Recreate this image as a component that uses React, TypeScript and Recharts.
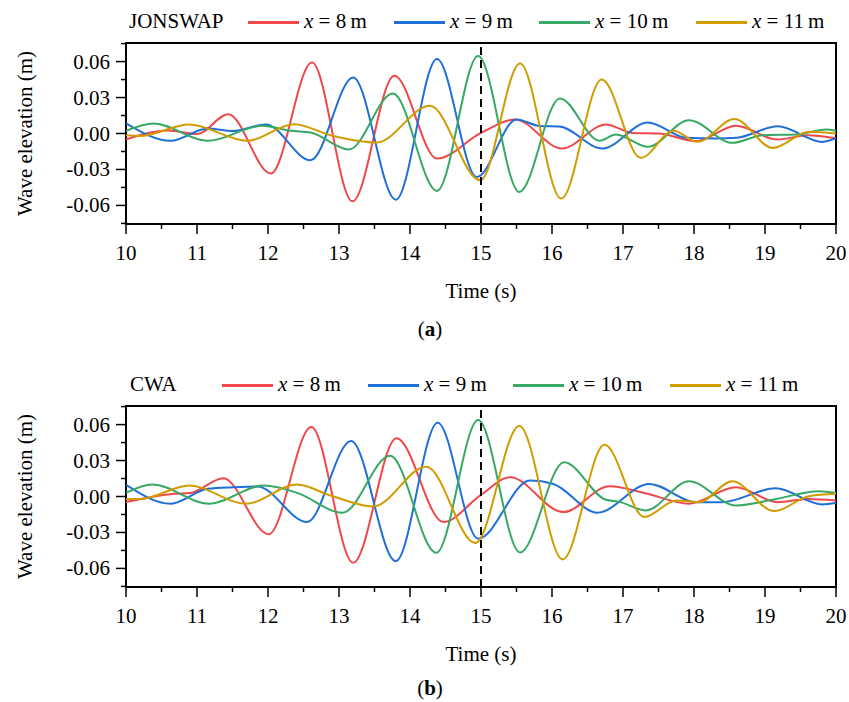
import React from 'react';
import { LineChart, Line, XAxis, YAxis, ReferenceLine, ReferenceArea } from 'recharts';

// time axis ticks (s), labels only on whole seconds
const xTicks = [10, 10.5, 11, 11.5, 12, 12.5, 13, 13.5, 14, 14.5, 15, 15.5, 16, 16.5, 17, 17.5, 18, 18.5, 19, 19.5, 20];
// elevation ticks (m), labels only on multiples of 0.03
const yTicks = [-0.075, -0.06, -0.045, -0.03, -0.015, 0, 0.015, 0.03, 0.045, 0.06, 0.075];
const yLabels: Record<string, string> = { '-0.06': '-0.06', '-0.03': '-0.03', '0': '0.00', '0.03': '0.03', '0.06': '0.06' };

const seriesNames = ['8', '9', '10', '11'];
const colors = ['#F0474A', '#1F6FD9', '#38A865', '#D09C00'];

// (a) JONSWAP — [time, elevation]
const jonswap8: [number, number][] = [
  [10, -0.005], [10.6, 0.0025], [11.0, -0.0005], [11.44, 0.016], [12.04, -0.0334], [12.62, 0.0593],
  [13.19, -0.0566], [13.78, 0.0482], [14.38, -0.0209], [15.0, 0.0005], [15.48, 0.0117], [16.14, -0.0125],
  [16.76, 0.0075], [17.13, 0.0005], [17.5, 0.0], [18.03, -0.0064], [18.59, 0.0064], [19.18, -0.005],
  [19.6, -0.0015], [20, -0.004],
];
const jonswap9: [number, number][] = [
  [10, 0.0084], [10.63, -0.0061], [11.15, 0.0042], [11.5, 0.002], [11.97, 0.0075], [12.6, -0.0223],
  [13.2, 0.0468], [13.8, -0.0552], [14.38, 0.0621], [14.94, -0.0362], [15.5, 0.0117], [15.83, 0.0062],
  [16.1, 0.0058], [16.71, -0.0125], [17.35, 0.0092], [17.89, -0.0036], [18.3, -0.0042], [18.6, -0.0036],
  [19.18, 0.0061], [19.81, -0.007], [20, -0.004],
];
const jonswap10: [number, number][] = [
  [10, 0.0022], [10.39, 0.0084], [11.15, -0.0061], [11.92, 0.0064], [12.32, 0.0022], [12.6, 0.0008],
  [13.14, -0.0134], [13.76, 0.0334], [14.38, -0.0479], [14.96, 0.0646], [15.54, -0.0488], [16.11, 0.0293],
  [16.67, -0.006], [16.9, -0.0008], [17.35, -0.0111], [17.93, 0.0111], [18.54, -0.0078], [18.97, -0.0014],
  [19.44, -0.0008], [19.86, 0.0033], [20, 0.0022],
];
const jonswap11: [number, number][] = [
  [10, -0.0014], [10.2, -0.002], [10.89, 0.0075], [11.71, -0.0061], [12.37, 0.0078], [12.88, -0.0014],
  [13.53, -0.0075], [14.28, 0.0231], [14.99, -0.039], [15.55, 0.0585], [16.13, -0.0543], [16.7, 0.0451],
  [17.25, -0.0203], [17.71, 0.0022], [18.05, -0.0069], [18.57, 0.012], [19.11, -0.012], [19.62, 0.0014],
  [20, 0.0],
];

// (b) CWA — [time, elevation]
const cwa8: [number, number][] = [
  [10, -0.0047], [10.68, 0.0022], [10.91, 0.003], [11.37, 0.0152], [12.01, -0.0315], [12.61, 0.058],
  [13.2, -0.0553], [13.81, 0.0487], [14.47, -0.0213], [15.0, 0.0014], [15.41, 0.016], [16.16, -0.013],
  [16.81, 0.0086], [17.3, 0.003], [17.93, -0.006], [18.59, 0.0077], [19.18, -0.0047], [19.6, -0.002],
  [20, -0.0033],
];
const cwa9: [number, number][] = [
  [10, 0.0097], [10.63, -0.006], [11.15, 0.0064], [11.52, 0.0077], [11.85, 0.0083], [12.55, -0.0213],
  [13.17, 0.0464], [13.8, -0.0539], [14.39, 0.0616], [14.96, -0.0351], [15.69, 0.0133], [16.02, 0.0105],
  [16.64, -0.0135], [17.37, 0.0105], [18.03, -0.0047], [18.4, -0.0047], [19.15, 0.0069], [19.81, -0.0066],
  [20, -0.0055],
];
const cwa10: [number, number][] = [
  [10, 0.003], [10.37, 0.01], [11.17, -0.006], [11.94, 0.0091], [12.41, 0.003], [13.05, -0.0135],
  [13.72, 0.034], [14.37, -0.047], [14.96, 0.0638], [15.55, -0.0467], [16.17, 0.0285], [16.75, -0.0025],
  [16.95, -0.0045], [17.32, -0.0116], [17.93, 0.0127], [18.59, -0.0075], [19.1, -0.0028], [19.76, 0.0044],
  [20, 0.003],
];
const cwa11: [number, number][] = [
  [10, -0.002], [10.2, -0.002], [10.89, 0.0091], [11.69, -0.006], [12.41, 0.01], [12.88, 0.0008],
  [13.48, -0.0083], [14.23, 0.0249], [14.92, -0.0387], [15.54, 0.0589], [16.15, -0.0525], [16.74, 0.0431],
  [17.3, -0.0171], [17.75, -0.0033], [18.07, -0.0047], [18.54, 0.0127], [19.13, -0.0122], [19.62, 0.0003],
  [20, 0.0022],
];

const FONT = '"Liberation Serif", "Times New Roman", serif';
const FS = 21;

const toPoints = (arr: [number, number][]) => arr.map(([t, v]) => ({ t, v }));

const XTick = (props: any) => {
  const { x, y, payload } = props;
  const major = Number.isInteger(payload.value);
  return (
    <g>
      <line x1={x} x2={x} y1={y} y2={y + (major ? 10 : 5)} stroke="#000" strokeWidth={1.5} />
      {major && (
        <text x={x} y={y + 36} textAnchor="middle" fontFamily={FONT} fontSize={FS} fill="#000">
          {payload.value}
        </text>
      )}
    </g>
  );
};

const YTick = (props: any) => {
  const { x, y, payload } = props;
  const label = yLabels[String(payload.value)];
  return (
    <g>
      <line x1={x} x2={x - (label ? 10 : 5)} y1={y} y2={y} stroke="#000" strokeWidth={1.5} />
      {label && (
        <text x={x - 16} y={y + 7} textAnchor="end" fontFamily={FONT} fontSize={FS} fill="#000">
          {label}
        </text>
      )}
    </g>
  );
};

const XTitle = (props: any) => {
  const { viewBox } = props;
  return (
    <text x={viewBox.x + viewBox.width / 2} y={viewBox.y + 74} textAnchor="middle" fontFamily={FONT} fontSize={FS} fill="#000">
      Time (s)
    </text>
  );
};

const YTitle = (props: any) => {
  const { viewBox } = props;
  const cy = viewBox.y + viewBox.height / 2;
  return (
    <text x={25} y={cy} transform={`rotate(-90, 25, ${cy})`} textAnchor="middle" dominantBaseline="central" fontFamily={FONT} fontSize={FS} fill="#000">
      Wave elevation (m)
    </text>
  );
};

interface PanelProps {
  top: number;
  title: string;
  tag: string;
  tagTop: number;
  series: [number, number][][];
  titleLeft: number;
  swatchLeft: number[];
}

function Panel({ top, title, tag, tagTop, series, titleLeft, swatchLeft }: PanelProps) {
  return (
    <div style={{ position: 'absolute', left: 0, top, width: 849, height: 340 }}>
      <div style={{ position: 'absolute', left: titleLeft, top: 11, fontFamily: FONT, fontSize: FS, lineHeight: `${FS}px`, whiteSpace: 'nowrap' }}>
        {title}
      </div>
      {seriesNames.map((name, i) => (
        <React.Fragment key={name}>
          <div style={{ position: 'absolute', left: swatchLeft[i], top: 21, width: 51, height: 2.5, background: colors[i] }} />
          <div style={{ position: 'absolute', left: swatchLeft[i] + 56, top: 11, fontFamily: FONT, fontSize: FS, lineHeight: `${FS}px`, whiteSpace: 'nowrap' }}>
            <i>x</i> = {name}&thinsp;m
          </div>
        </React.Fragment>
      ))}
      <LineChart width={849} height={320} margin={{ top: 43, right: 13, left: 66, bottom: 66 }}>
        <XAxis
          dataKey="t"
          type="number"
          domain={[10, 20]}
          ticks={xTicks}
          interval={0}
          allowDataOverflow
          axisLine={false}
          tickLine={false}
          tickSize={0}
          tickMargin={0}
          tick={<XTick />}
          height={30}
          label={<XTitle />}
        />
        <YAxis
          type="number"
          domain={[-0.0755, 0.0755]}
          ticks={yTicks}
          interval={0}
          allowDataOverflow
          axisLine={false}
          tickLine={false}
          tickSize={0}
          tickMargin={0}
          tick={<YTick />}
          width={60}
          label={<YTitle />}
        />
        {series.map((s, i) => (
          <Line
            key={seriesNames[i]}
            data={toPoints(s)}
            dataKey="v"
            type="monotone"
            stroke={colors[i]}
            strokeWidth={2}
            dot={false}
            activeDot={false}
            isAnimationActive={false}
          />
        ))}
        <ReferenceLine x={15} stroke="#000" strokeWidth={2} strokeDasharray="8 5" ifOverflow="visible" />
        <ReferenceArea x1={10} x2={20} y1={-0.0755} y2={0.0755} fill="none" stroke="#000" strokeWidth={2} ifOverflow="visible" />
      </LineChart>
      <div style={{ position: 'absolute', left: 430, top: tagTop, transform: 'translateX(-50%)', fontFamily: FONT, fontSize: FS, lineHeight: '20px' }}>
        (<b>{tag}</b>)
      </div>
    </div>
  );
}

export default function App() {
  return (
    <div style={{ position: 'absolute', left: 0, top: 0, width: 849, height: 702, background: '#fff', overflow: 'hidden' }}>
      <Panel top={0} title="JONSWAP" tag="a" tagTop={319} series={[jonswap8, jonswap9, jonswap10, jonswap11]} titleLeft={129} swatchLeft={[248, 394, 539, 696]} />
      <Panel top={363} title="CWA" tag="b" tagTop={315} series={[cwa8, cwa9, cwa10, cwa11]} titleLeft={130} swatchLeft={[222, 368, 513, 670]} />
    </div>
  );
}
